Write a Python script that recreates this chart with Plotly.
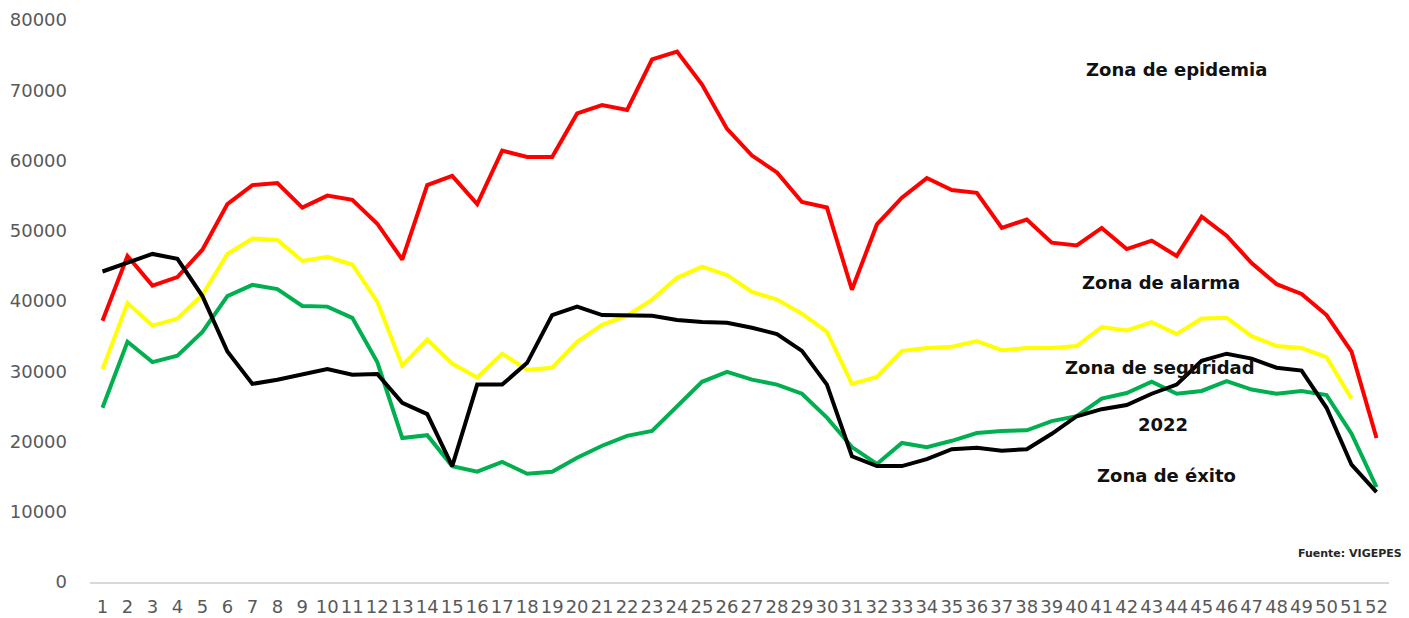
import plotly.graph_objects as go

weeks = list(range(1, 53))

epidemia = [37200, 46400, 42200, 43400, 47300, 53800, 56500, 56800, 53300, 55000,
            54400, 51000, 45900, 56500, 57800, 53800, 61400, 60500, 60500, 66700,
            67900, 67200, 74400, 75500, 70800, 64500, 60700, 58300, 54100, 53300,
            41600, 50900, 54700, 57500, 55800, 55400, 50400, 51600, 48300, 47900,
            50400, 47400, 48600, 46400, 52000, 49300, 45400, 42400, 41000, 38000,
            32800, 20500]

alarma = [30300, 39700, 36500, 37500, 40900, 46700, 48900, 48700, 45700, 46300,
          45200, 39900, 30800, 34500, 31100, 29100, 32500, 30200, 30500, 34200,
          36600, 37900, 40200, 43300, 44900, 43700, 41300, 40200, 38200, 35600,
          28200, 29200, 32900, 33300, 33500, 34300, 33000, 33300, 33300, 33600,
          36300, 35800, 37000, 35300, 37500, 37600, 35000, 33600, 33300, 32000,
          26100]

seguridad = [24800, 34200, 31300, 32200, 35600, 40700, 42300, 41700, 39300, 39200,
             37600, 31300, 20500, 20900, 16500, 15700, 17100, 15400, 15700, 17700,
             19400, 20800, 21500, 25100, 28500, 29900, 28800, 28100, 26800, 23400,
             19200, 16800, 19800, 19200, 20100, 21200, 21500, 21600, 22900, 23600,
             26100, 26900, 28500, 26800, 27200, 28600, 27400, 26800, 27200, 26600,
             21100, 13500]

y2022 = [44200, 45400, 46700, 46000, 40700, 32800, 28200, 28800, 29500, 30300,
         29500, 29600, 25500, 23900, 16500, 28100, 28100, 31200, 38000, 39200,
         38000, 38000, 37900, 37300, 37000, 36900, 36200, 35300, 32900, 28100,
         17900, 16500, 16500, 17500, 18900, 19100, 18700, 18900, 21100, 23600,
         24600, 25200, 26800, 28100, 31500, 32500, 31800, 30500, 30100, 24800,
         16700, 12800]

series = [
    ("Zona de epidemia", epidemia, "#FF0000"),
    ("Zona de alarma", alarma, "#FFFF00"),
    ("Zona de seguridad", seguridad, "#00B050"),
    ("2022", y2022, "#000000"),
]

fig = go.Figure()
for name, vals, color in series:
    fig.add_trace(go.Scatter(x=weeks[:len(vals)], y=vals, mode="lines", name=name,
                             line=dict(color=color, width=4)))

labels = [
    ("Zona de epidemia", 44.0, 73000),
    ("Zona de alarma", 43.37, 42700),
    ("Zona de seguridad", 43.33, 30600),
    ("2022", 43.45, 22350),
    ("Zona de éxito", 43.6, 15100),
]
for text, xx, yy in labels:
    fig.add_annotation(x=xx, y=yy, xref="x", yref="y", text=f"<b>{text}</b>",
                       showarrow=False,
                       font=dict(family="DejaVu Sans", size=18, color="#111111"))

fig.add_annotation(x=1.0115, y=0.0516, xref="paper", yref="paper",
                   text="<b>Fuente: VIGEPES</b>", showarrow=False,
                   xanchor="right", yanchor="middle",
                   font=dict(family="DejaVu Sans", size=11, color="#262626"))

fig.update_layout(
    width=1401, height=610,
    margin=dict(l=82, r=20, t=12, b=36),
    paper_bgcolor="white", plot_bgcolor="white",
    showlegend=False,
    font=dict(family="DejaVu Sans", size=18, color="#595959"),
)
fig.update_xaxes(range=[0.5, 52.5], tickmode="array", tickvals=weeks,
                 ticktext=[str(w) for w in weeks], showgrid=False,
                 showline=True, linecolor="#D9D9D9", linewidth=2,
                 ticks="", zeroline=False, ticklabelstandoff=7, automargin=False,
                 tickfont=dict(family="DejaVu Sans", size=18, color="#595959"))
fig.update_yaxes(range=[0, 80000], dtick=10000, tickformat="d", showgrid=False,
                 showline=False, zeroline=False, ticks="", ticklabelstandoff=22,
                 automargin=False,
                 tickfont=dict(family="DejaVu Sans", size=18, color="#595959"))

fig.write_html("out.html")
